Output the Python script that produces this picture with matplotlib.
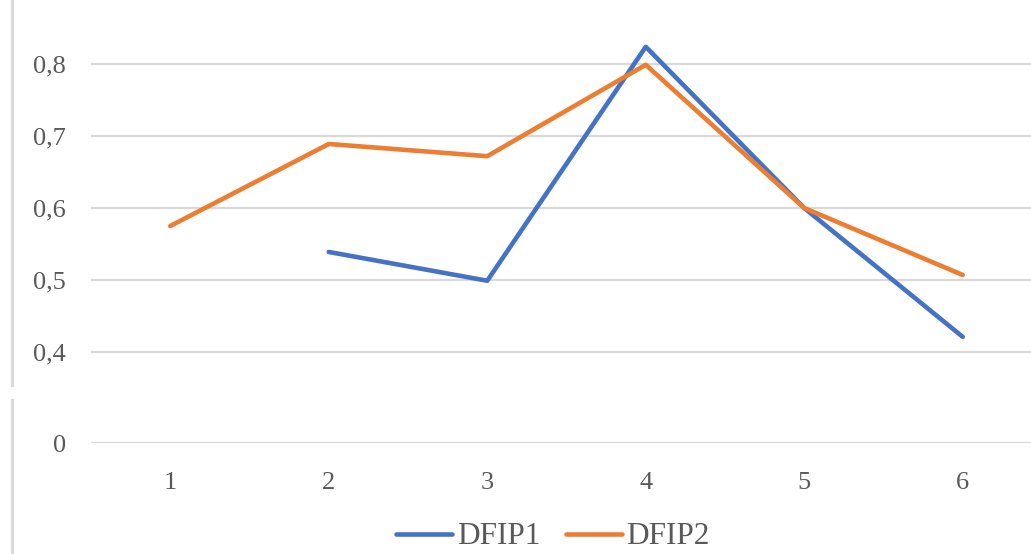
import numpy as np
import matplotlib.pyplot as plt
from matplotlib.lines import Line2D
from matplotlib.ticker import FuncFormatter

# datos
categorias = [1, 2, 3, 4, 5, 6]
dfip1 = [np.nan, 0.539, 0.499, 0.824, 0.600, 0.421]
dfip2 = [0.575, 0.689, 0.672, 0.799, 0.600, 0.507]
ticks_y = [0, 0.4, 0.5, 0.6, 0.7, 0.8]

# eje cortado: entre 0 y 0.4 se comprime
corte = 0.4
base = 0.2736


def fwd(v):
    v = np.asarray(v, dtype=float)
    return np.where(v >= corte, v, base + v * (corte - base) / corte)


def inv(u):
    u = np.asarray(u, dtype=float)
    return np.where(u >= corte, u, (u - base) * corte / (corte - base))


plt.rcParams['font.family'] = ['Liberation Serif', 'DejaVu Serif']

fig = plt.figure(figsize=(10.31, 5.54), dpi=100)
ax = fig.add_axes([91 / 1031, 111 / 554, 951 / 1031, 443 / 554])

ax.set_yscale('function', functions=(fwd, inv))
ax.plot(categorias, dfip1, color='#4472C4', lw=3.3, label='DFIP1', solid_capstyle='round')
ax.plot(categorias, dfip2, color='#ED7D31', lw=3.3, label='DFIP2', solid_capstyle='round')

ax.set_xlim(0.5, 6.5)
ax.set_ylim(0, 0.889)
ax.set_yticks(ticks_y)
ax.set_xticks(categorias)
ax.yaxis.set_major_formatter(FuncFormatter(lambda v, p: ('%g' % round(v, 2)).replace('.', ',')))
ax.grid(axis='y', color='#d9d9d9', lw=1.6)
ax.set_axisbelow(True)
for s in ax.spines.values():
    s.set_visible(False)
ax.tick_params(axis='both', length=0, labelsize=19, colors='#595959')
ax.tick_params(axis='y', pad=18)
ax.tick_params(axis='x', pad=21)

# borde izquierdo del area del grafico (cortado)
fig.add_artist(Line2D([12 / 1031, 12 / 1031], [1 - 385 / 554, 1], color='#d9d9d9', lw=2.2))
fig.add_artist(Line2D([12 / 1031, 12 / 1031], [0, 1 - 400 / 554], color='#d9d9d9', lw=2.2))

fig.legend(loc='center', bbox_to_anchor=(553 / 1031, 1 - 537 / 554), ncol=2, frameon=False,
           fontsize=22.5, labelcolor='#595959', handlelength=1.8, handletextpad=0.15,
           columnspacing=0.8, borderaxespad=0, borderpad=0)

fig.savefig('out.png', dpi=100)
